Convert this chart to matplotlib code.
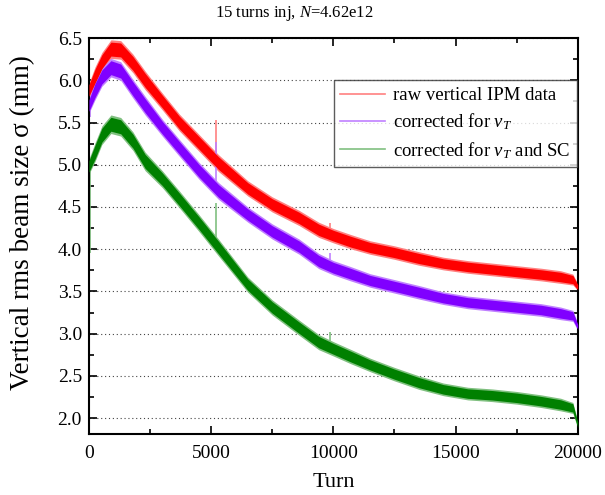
import numpy as np
import matplotlib as mpl
import matplotlib.pyplot as plt
from matplotlib.ticker import MultipleLocator, FormatStrFormatter

mpl.rcParams.update({
    "font.family": ["Liberation Serif", "DejaVu Serif"],
    "mathtext.fontset": "custom",
    "mathtext.rm": "Liberation Serif",
    "mathtext.it": "Liberation Serif:italic",
    "mathtext.bf": "Liberation Serif:bold",
})

TURNS = [0, 250, 530, 900, 1300, 1800, 2300, 3000, 3700, 4500, 5300, 6500, 7500,
         8600, 9400, 10000, 10700, 11500, 12500, 13500, 14500, 15500, 16500,
         17500, 18500, 19300, 19800, 20000]

RAW = [5.88, 6.05, 6.22, 6.37, 6.36, 6.20, 6.00, 5.75, 5.50, 5.26, 5.02, 4.72, 4.53,
       4.37, 4.23, 4.16, 4.09, 4.02, 3.96, 3.89, 3.83, 3.79, 3.76,
       3.73, 3.70, 3.67, 3.64, 3.55]
CORR_NU = [5.70, 5.88, 6.04, 6.15, 6.11, 5.90, 5.70, 5.44, 5.20, 4.93, 4.69, 4.41, 4.21,
           4.03, 3.86, 3.78, 3.71, 3.63, 3.56, 3.49, 3.42, 3.37, 3.34,
           3.31, 3.28, 3.24, 3.21, 3.08]
CORR_NU_SC = [4.98, 5.15, 5.35, 5.48, 5.45, 5.28, 5.04, 4.83, 4.59, 4.31, 4.02, 3.58, 3.31,
              3.07, 2.90, 2.82, 2.73, 2.63, 2.52, 2.42, 2.34, 2.29, 2.27,
              2.24, 2.20, 2.16, 2.12, 1.92]

# half width of the noise band (mm)
NOISE_HW = [0.09, 0.11, 0.11, 0.11, 0.11, 0.11, 0.11, 0.10, 0.10, 0.10, 0.10, 0.09, 0.09,
            0.09, 0.09, 0.085, 0.085, 0.08, 0.08, 0.08, 0.075, 0.075, 0.075,
            0.075, 0.075, 0.075, 0.065, 0.04]

# isolated spikes: turn, low, high for each series
SPIKE_TURNS = [30, 5200, 9850]
RAW_SPIKE_LO = [5.85, 5.05, 4.15]
RAW_SPIKE_HI = [5.95, 5.53, 4.31]
NU_SPIKE_LO = [5.56, 4.72, 3.78]
NU_SPIKE_HI = [5.70, 5.27, 3.95]
SC_SPIKE_LO = [3.95, 4.00, 2.82]
SC_SPIKE_HI = [4.98, 4.55, 3.02]

LABELS = ["raw vertical IPM data", r"corrected for $\nu_T$", r"corrected for $\nu_T$ and SC"]
COLORS = ["#ff0000", "#8000ff", "#008000"]
LIGHT = ["#ff8080", "#c080ff", "#80c080"]

fig = plt.figure(figsize=(6.05, 4.95), dpi=100)
ax = fig.add_axes([0.147, 0.123, 0.808, 0.800])

t = np.array(TURNS)
hw = np.array(NOISE_HW)
series = [np.array(RAW), np.array(CORR_NU), np.array(CORR_NU_SC)]
spikes = [(RAW_SPIKE_LO, RAW_SPIKE_HI), (NU_SPIKE_LO, NU_SPIKE_HI), (SC_SPIKE_LO, SC_SPIKE_HI)]

for y, col, light, lab, (lo, hi) in zip(series, COLORS, LIGHT, LABELS, spikes):
    ax.fill_between(t, y - hw, y + hw, color=light, lw=0, zorder=2)
    ax.fill_between(t, y - 0.75 * hw, y + 0.75 * hw, color=col, lw=0, zorder=3)
    ax.vlines(SPIKE_TURNS, lo, hi, color=light, lw=1.2, zorder=2)
    ax.plot([], [], color=light, lw=1.2, label=lab)

ax.set_xlim(0, 20000)
ax.set_ylim(1.81, 6.5)
ax.xaxis.set_major_locator(MultipleLocator(5000))
ax.xaxis.set_minor_locator(MultipleLocator(2500))
ax.yaxis.set_major_locator(MultipleLocator(0.5))
ax.yaxis.set_minor_locator(MultipleLocator(0.25))
ax.yaxis.set_major_formatter(FormatStrFormatter("%.1f"))
ax.tick_params(which="both", direction="in", top=True, right=True, width=1.2, labelsize=14)
ax.tick_params(which="major", length=6)
ax.tick_params(which="minor", length=3.5)
ax.tick_params(axis="x", pad=8)
ax.tick_params(axis="y", pad=5)
for s in ax.spines.values():
    s.set_linewidth(1.5)
ax.yaxis.grid(True, which="major", ls=(0, (1, 2.5)), color="#444444", lw=0.8)
ax.set_axisbelow(True)

ax.set_xlabel("Turn", fontsize=16, labelpad=8)
ax.set_ylabel("Vertical rms beam size σ (mm)", fontsize=19.5)
ax.yaxis.set_label_coords(-0.110, 0.533)
fig.text(0.487, 0.972, r"15 turns inj, $N$=4.62e12", fontsize=12, ha="center", va="center")

leg = ax.legend(loc="upper right", bbox_to_anchor=(0.998, 0.893), fontsize=13.5,
                frameon=True, fancybox=False, borderpad=0.35, labelspacing=0.4,
                handlelength=2.4, handletextpad=0.4, borderaxespad=0)
leg.get_frame().set_edgecolor("#333333")
leg.get_frame().set_linewidth(1.0)

fig.savefig("out.png", dpi=100)
